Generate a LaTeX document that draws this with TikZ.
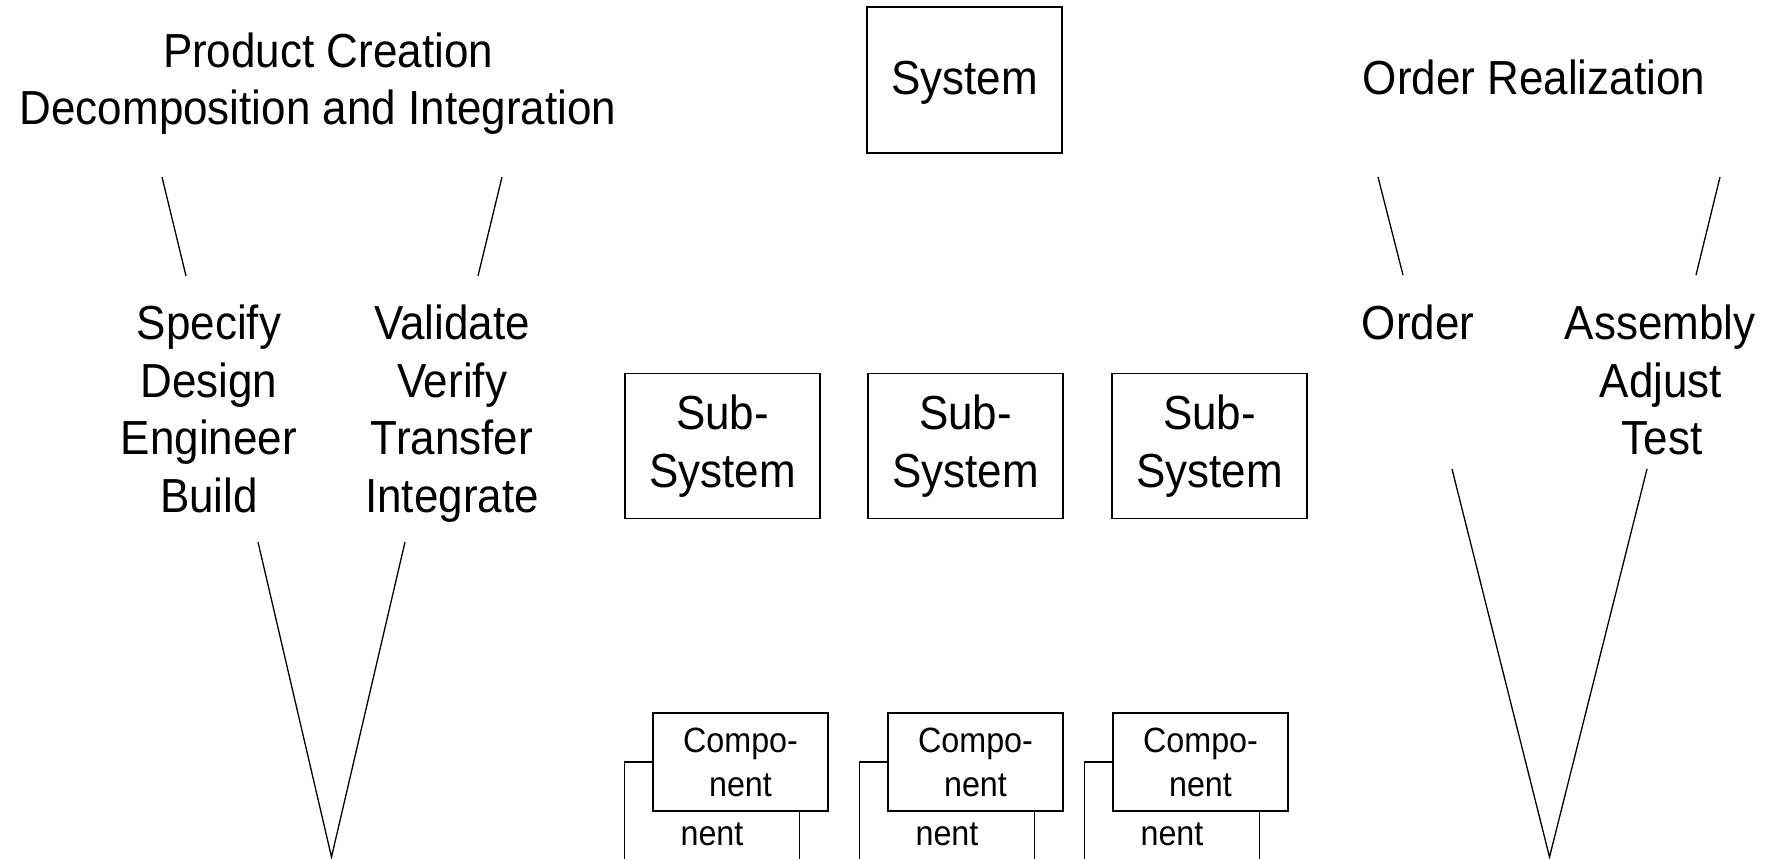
\documentclass[tikz,border=0pt]{standalone}
\usepackage{fontspec}
\setmainfont{Liberation Sans}[FakeStretch=0.92]
\newcommand\bigtxt{\fontsize{47.8}{57.5}\selectfont}
\newcommand\comptxt{\fontsize{35.1}{44}\selectfont}
\begin{document}
\begin{tikzpicture}[x=1pt,y=-1pt,
  lbl/.style={font=\bigtxt, anchor=base, inner sep=0pt},
  bigbox/.style={draw, line width=1.4pt, fill=white, inner sep=0pt, align=center, font=\bigtxt},
  compbox/.style={draw, line width=1.4pt, fill=white, inner sep=0pt, align=center, font=\comptxt,
                  minimum width=175pt, minimum height=98pt},
  vline/.style={line width=1.3pt}]
\useasboundingbox (0,0) rectangle (1775,859);

% ---------- left: product creation ----------
\node[lbl] (pc1) at (328,67) {Product Creation};
\node[lbl] (pc2) at (318,124) {Decomposition and Integration};

\node[lbl] (l1) at (209,339) {Specify};
\node[lbl] (l2) at (209,397) {Design};
\node[lbl] (l3) at (209,454) {Engineer};
\node[lbl] (l4) at (209,512) {Build};
\node[lbl] (r1) at (452,339) {Validate};
\node[lbl] (r2) at (452,397) {Verify};
\node[lbl] (r3) at (452,454) {Transfer};
\node[lbl] (r4) at (452,512) {Integrate};

\coordinate (lua) at (162,177); \coordinate (lub) at (186,276);
\coordinate (lva) at (502,177); \coordinate (lvb) at (478,276);
\coordinate (lla) at (258,542); \coordinate (llb) at (405,542);
\coordinate (ltip) at (331.5,857);
\draw[vline] (lua) -- (lub);
\draw[vline] (lva) -- (lvb);
\draw[vline] (lla) -- (ltip) -- (llb);

% ---------- middle: system hierarchy ----------
\node[bigbox, minimum width=195pt, minimum height=146pt, text height=40pt, text depth=10pt] (sys) at (964.5,80) {System};

\node[bigbox, minimum width=195pt, minimum height=145pt] (ss1) at (722.5,446) {Sub-\\System};
\node[bigbox, minimum width=195pt, minimum height=145pt] (ss2) at (965.5,446) {Sub-\\System};
\node[bigbox, minimum width=195pt, minimum height=145pt] (ss3) at (1209.5,446) {Sub-\\System};

\node[compbox] (c1b) at (712,811) {Compo-\\nent};
\node[compbox] (c1f) at (740.5,762) {Compo-\\nent};
\node[compbox] (c2b) at (947,811) {Compo-\\nent};
\node[compbox] (c2f) at (975.5,762) {Compo-\\nent};
\node[compbox] (c3b) at (1172,811) {Compo-\\nent};
\node[compbox] (c3f) at (1200.5,762) {Compo-\\nent};

% ---------- right: order realization ----------
\node[lbl] (or) at (1534,95) {Order Realization};
\node[lbl] (o1) at (1418,339) {Order};
\node[lbl] (a1) at (1660,339) {Assembly};
\node[lbl] (a2) at (1661,397) {Adjust};
\node[lbl] (a3) at (1662,454) {Test};

\coordinate (rua) at (1378,177); \coordinate (rub) at (1403,275);
\coordinate (rva) at (1720,177); \coordinate (rvb) at (1696,275);
\coordinate (rla) at (1452,469); \coordinate (rlb) at (1647,469);
\coordinate (rtip) at (1549.5,857);
\draw[vline] (rua) -- (rub);
\draw[vline] (rva) -- (rvb);
\draw[vline] (rla) -- (rtip) -- (rlb);
\end{tikzpicture}
\end{document}
